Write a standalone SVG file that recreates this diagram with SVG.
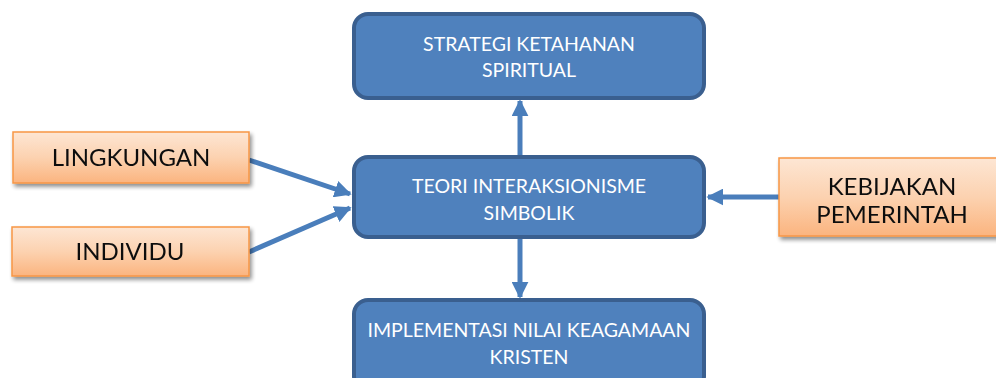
<svg xmlns="http://www.w3.org/2000/svg" width="996" height="378" viewBox="0 0 996 378">
<defs>
<linearGradient id="og" x1="0" y1="0" x2="0" y2="1">
<stop offset="0" stop-color="#fde6d4"/>
<stop offset="0.5" stop-color="#fcd2b0"/>
<stop offset="1" stop-color="#fbb47f"/>
</linearGradient>
<filter id="sh" x="-10%" y="-10%" width="130%" height="140%">
<feGaussianBlur in="SourceAlpha" stdDeviation="2"/>
<feOffset dx="2" dy="3"/>
<feComponentTransfer><feFuncA type="linear" slope="0.45"/></feComponentTransfer>
<feMerge><feMergeNode/><feMergeNode in="SourceGraphic"/></feMerge>
</filter>
<marker id="ah" viewBox="0 0 10 10" refX="9" refY="5" markerWidth="3.4" markerHeight="3.4" orient="auto" markerUnits="strokeWidth">
<path d="M0,0 L10,5 L0,10 z" fill="#4a7ebb"/>
</marker>
</defs>
<style>
.blue{fill:#4f81bd;stroke:#3a5f8f;stroke-width:4}
.org{fill:url(#og);stroke:#f79646;stroke-width:1.5}
.wt{font-family:"Lato","Liberation Sans",sans-serif;font-size:19.5px;fill:#ffffff;text-anchor:middle}
.bt{font-family:"Lato","Liberation Sans",sans-serif;font-size:24px;fill:#111111;text-anchor:middle}
.con{stroke:#4a7ebb;stroke-width:5;fill:none;marker-end:url(#ah)}
</style>
<rect width="996" height="378" fill="#ffffff"/>
<g id="connectors">
<line class="con" x1="520" y1="156" x2="520" y2="101"/>
<line class="con" x1="520" y1="238" x2="520" y2="297"/>
<line class="con" x1="249" y1="160" x2="350" y2="194"/>
<line class="con" x1="249" y1="252" x2="350" y2="208"/>
<line class="con" x1="779" y1="197" x2="708" y2="197"/>
</g>
<g id="strategi">
<rect class="blue" x="354" y="14" width="350" height="84" rx="14"/>
<text class="wt" x="529" y="51">STRATEGI KETAHANAN</text>
<text class="wt" x="529" y="77">SPIRITUAL</text>
</g>
<g id="teori">
<rect class="blue" x="354" y="157" width="350" height="80" rx="14"/>
<text class="wt" x="529" y="193">TEORI INTERAKSIONISME</text>
<text class="wt" x="529" y="220">SIMBOLIK</text>
</g>
<g id="implementasi">
<rect class="blue" x="354" y="300" width="350" height="90" rx="14"/>
<text class="wt" x="529" y="337">IMPLEMENTASI NILAI KEAGAMAAN</text>
<text class="wt" x="529" y="364">KRISTEN</text>
</g>
<g id="lingkungan" filter="url(#sh)">
<rect class="org" x="13" y="132" width="236" height="51"/>
<text class="bt" x="131" y="166">LINGKUNGAN</text>
</g>
<g id="individu" filter="url(#sh)">
<rect class="org" x="12" y="227" width="237" height="49"/>
<text class="bt" x="130" y="260">INDIVIDU</text>
</g>
<g id="kebijakan" filter="url(#sh)">
<rect class="org" x="779" y="158" width="222" height="78"/>
<text class="bt" x="892" y="195">KEBIJAKAN</text>
<text class="bt" x="892" y="223">PEMERINTAH</text>
</g>
</svg>
